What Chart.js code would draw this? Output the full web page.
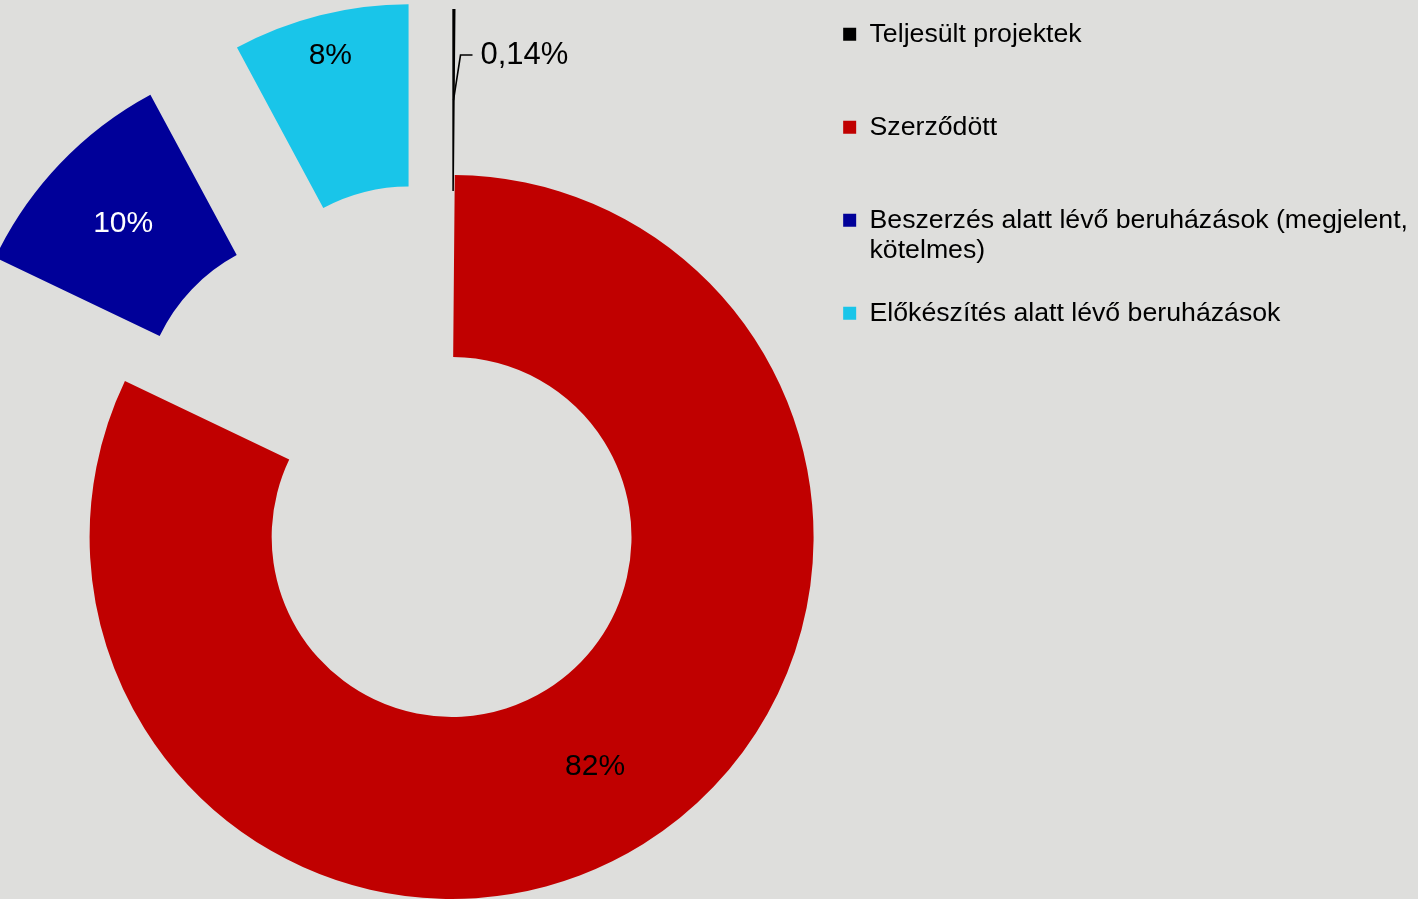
<!DOCTYPE html>
<html>
<head>
<meta charset="utf-8">
<script src="https://cdn.jsdelivr.net/npm/chart.js@4.4.1/dist/chart.umd.min.js"></script>
<style>
  html, body { margin: 0; padding: 0; background: #dededc; }
  #wrap { width: 1418px; height: 899px; position: relative; }
</style>
</head>
<body>
<div id="wrap"><canvas id="c"></canvas></div>
<script>
// ---- data ----
const categories = [
  'Teljesült projektek',
  'Szerződött',
  'Beszerzés alatt lévő beruházások (megjelent, kötelmes)',
  'Előkészítés alatt lévő beruházások'
];
const shares = [0.14, 81.95, 10.05, 7.86];
const sliceColors = ['#000000', '#c00000', '#000099', '#19c5e9'];
const valueLabelColors = ['#000000', '#000000', '#ffffff', '#000000'];

const FONT = '"Liberation Sans", Arial, Helvetica, sans-serif';
const LEGEND_FONT_SIZE = 26.7;

// styling of the slice value labels (radial position inside ring, callout for tiny slice)
const valueLabelStyle = {
  size: 30,
  radialPos: [0.5, 0.5, 0.52, 0.77],
  callout: [{ dx: 7, dy: -45, len: 12, gap: 8, size: 31 }, null, null, null]
};
// explosion distance (px) of each slice along its mid-angle
const explodeStyle = [166, 0, 179, 176];

function formatShare(v, total) {
  const p = v / total * 100;
  if (p < 1) return p.toFixed(2).replace('.', ',') + '%';
  return Math.round(p) + '%';
}

function wrapText(ctx, text, maxWidth) {
  const words = text.split(' ');
  const lines = [];
  let line = '';
  for (const w of words) {
    const test = line ? line + ' ' + w : w;
    if (line && ctx.measureText(test).width > maxWidth) {
      lines.push(line);
      line = w;
    } else {
      line = test;
    }
  }
  if (line) lines.push(line);
  return lines;
}

const explodePlugin = {
  id: 'explode',
  afterDatasetUpdate(chart, args) {
    args.meta.data.forEach((arc, i) => {
      const d = explodeStyle[i] || 0;
      if (!d) return;
      const mid = (arc.startAngle + arc.endAngle) / 2;
      arc.x += Math.cos(mid) * d;
      arc.y += Math.sin(mid) * d;
    });
  }
};

const valueLabelPlugin = {
  id: 'valueLabels',
  afterDatasetsDraw(chart) {
    const ctx = chart.ctx;
    const meta = chart.getDatasetMeta(0);
    const data = chart.data.datasets[0].data;
    const total = data.reduce((a, b) => a + b, 0);
    const st = valueLabelStyle;
    meta.data.forEach((arc, i) => {
      const mid = (arc.startAngle + arc.endAngle) / 2;
      const frac = st.radialPos[i];
      const r = arc.innerRadius + frac * (arc.outerRadius - arc.innerRadius);
      const px = arc.x + Math.cos(mid) * r;
      const py = arc.y + Math.sin(mid) * r;
      const text = formatShare(data[i], total);
      ctx.save();
      ctx.fillStyle = valueLabelColors[i];
      ctx.textBaseline = 'middle';
      const co = st.callout[i];
      if (co) {
        const kx = px + co.dx, ky = py + co.dy;
        const ex = kx + co.len;
        ctx.strokeStyle = '#000000';
        ctx.lineWidth = 1.6;
        ctx.beginPath();
        ctx.moveTo(px, py);
        ctx.lineTo(kx, ky);
        ctx.lineTo(ex, ky);
        ctx.stroke();
        ctx.font = co.size + 'px ' + FONT;
        ctx.textAlign = 'left';
        ctx.fillText(text, ex + co.gap, ky);
      } else {
        ctx.font = st.size + 'px ' + FONT;
        ctx.textAlign = 'center';
        ctx.fillText(text, px, py);
      }
      ctx.restore();
    });
  }
};

const chart = new Chart(document.getElementById('c'), {
  type: 'doughnut',
  data: {
    labels: categories,
    datasets: [{
      data: shares,
      backgroundColor: sliceColors,
      borderWidth: 0,
      hoverOffset: 0,
      clip: false
    }]
  },
  plugins: [explodePlugin, valueLabelPlugin],
  options: {
    responsive: true,
    maintainAspectRatio: false,
    animation: false,
    radius: 362,
    cutout: '49.7%',
    rotation: 0,
    layout: { padding: { top: -12, left: 93, right: 0, bottom: 0 } },
    plugins: {
      tooltip: { enabled: false },
      title: {
        display: true,
        text: '',
        position: 'top',
        fullSize: false,
        font: { size: 1, lineHeight: 1 },
        padding: { top: 186, bottom: 0 }
      },
      legend: {
        position: 'right',
        align: 'start',
        labels: {
          color: '#000000',
          boxWidth: 13,
          boxHeight: 13,
          padding: 33,
          font: { family: FONT, size: LEGEND_FONT_SIZE, lineHeight: '30px' },
          generateLabels(chart) {
            const items = Chart.overrides.doughnut.plugins.legend.labels.generateLabels(chart);
            const ctx = chart.ctx;
            ctx.save();
            ctx.font = LEGEND_FONT_SIZE + 'px ' + FONT;
            items.forEach(it => {
              const lines = wrapText(ctx, String(it.text), 550);
              while (lines.length < 2) lines.push('');
              it.text = lines;
            });
            ctx.restore();
            return items;
          }
        }
      }
    }
  }
});
</script>
</body>
</html>
